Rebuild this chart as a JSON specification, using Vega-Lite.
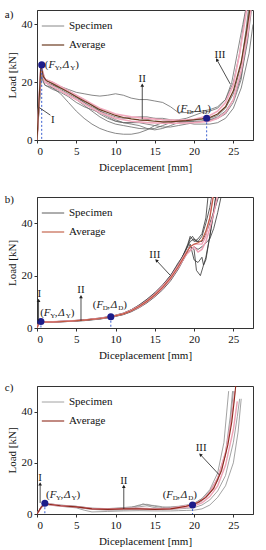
{
"$schema":"https://vega.github.io/schema/vega-lite/v6.json",
"padding":{"left":4,"top":8,"right":4,"bottom":0},
"config":{"font":"Liberation Serif","view":{"stroke":"#333","strokeWidth":1},
"axis":{"labelFontSize":11,"titleFontSize":11,"titleFontWeight":"normal","labelColor":"#111","titleColor":"#111","domainColor":"#333","tickColor":"#333","tickSize":3,"labelPadding":2,"titlePadding":4,"grid":false},
"axisX":{"titlePadding":5},
"legend":{"orient":"top-left","offset":4,"labelFontSize":11,"labelColor":"#111","symbolType":"stroke","symbolSize":500,"symbolStrokeWidth":1.4,"rowPadding":2,"padding":0,"title":null}},
"datasets":{
"tags":[{"p":"a","t":"a)"},{"p":"b","t":"b)"},{"p":"c","t":"c)"}],
"lines":[
{"p":"a","s":"S1","g":"Specimen","x":[0,0.5,1,2,3,4,5,6,7,8,9,10,11,12,13,14,15,16,17,18,19,20,21,22,23,24,25,25.8,26.3,26.7],"y":[0,25,21,19.5,18.5,17.5,16.5,16,15.5,15.2,15.5,16,15.5,14.5,14,14,13.5,13,11.5,9.5,9.5,9.8,10,10.5,11.5,14,20,30,40,47]},
{"p":"a","s":"S2","g":"Specimen","x":[0,0.6,1,2,3,4,5,6,7,8,9,10,11,12,13,14,15,16,17,18,19,20,22,23,24,25,26,26.6,27],"y":[0,24,20,18,16,13,10,7.5,5.5,4,3,2.3,2,2,2.5,3.5,5,6,6.5,6.7,6.8,7,7.5,8.5,11,16,26,38,47]},
{"p":"a","s":"S3","g":"Specimen","x":[0,0.5,1,2,3,4,5,6,7,8,9,10,11,12,13,14,15,16,17,18,20,21,22,23,24,25,26,26.8,27.3],"y":[0,23,19,18,17,15.5,14,12,10,8,6.5,5.5,5,4.5,4,3.8,4,5,6,6.5,6.5,6.5,6.8,7.5,9.5,14,23,35,47]},
{"p":"a","s":"S4","g":"Specimen","x":[0,0.6,1,2,3,4,5,6,7,8,9,10,11,12,13,14,15,16,17,18,19,20,21,22,23,24,25,26,27,27.5],"y":[0,25,21,20,18.5,17,15,13,11,9,7.5,6.5,6,6,6.5,7,7.5,7.5,7,6.5,6,5.5,5.5,5.5,6,7.5,11,18,30,40]},
{"p":"a","s":"S5","g":"Specimen","x":[0,0.5,1,2,3,4,5,6,7,8,9,10,11,12,13,14,15,16,17,18,19,20,21,22,23,24,24.8,25.5,26.2,26.7],"y":[0,24,20,19,17.5,16,14.5,13,11.5,10,9,8,7.5,7.8,8,8,7.5,7,6.8,7,7.5,8.5,9.5,10,11,14,20,30,40,47]},
{"p":"a","s":"S6","g":"Specimen","x":[0,0.5,1,2,3,4,5,6,7,8,9,10,11,12,13,14,15,16,17,18,19,20,21,22,23,24,25,26,26.8,27.3],"y":[0,22,19,17.5,16.5,15,13,11.5,10.5,9.5,8,6.5,6,6,6,5.5,5,4.5,4.5,5,5.5,6,6.5,7,8,10,14,22,34,45]},
{"p":"a","s":"S7","g":"Specimen","x":[0,0.5,1,2,3,4,5,6,7,8,9,10,11,12,13,14,15,16,17,18,19,20,21,22,23,24,25,26,26.5,27],"y":[0,24,20,19,18,17,15.5,14,12,10,8.5,7,6,5.5,5,4,3.5,4,5,6,6.3,6.5,6.5,6.8,7.5,9,13,21,32,45]},
{"p":"a","s":"P1","g":"Other","x":[0,0.5,1,2,3,4,5,6,7,8,9,10,12,14,16,18,20,22,23,24,25,25.8,26.4,26.8],"y":[0,26,21,20,18.5,17,15.5,14,12.5,11,10,9,8,7.5,7,6.8,7.2,8.5,10,13,19,30,40,47]},
{"p":"a","s":"P2","g":"Other","x":[0,0.5,1,2,3,4,5,6,7,8,10,12,14,16,18,20,22,23,24,25,26,26.9,27.3],"y":[0,25,20,18.5,17,15.5,14,12.5,11,9.5,7.5,6.5,6,5.8,5.8,6,6.5,7.5,9.5,14,24,38,47]},
{"p":"a","s":"AV","g":"Average","x":[0,0.5,0.8,1.2,2,3,4,5,6,7,8,9,10,11,12,13,14,15,16,17,18,19,20,21,22,23,24,25,26,26.7,27.2],"y":[0,26,22,20.5,19.5,18,16.5,15,13.5,12,10.5,9.5,8.5,7.8,7.3,7,6.8,6.5,6.3,6.3,6.5,6.7,7,7.3,7.8,9,11.5,17,27,38,47]},
{"p":"b","s":"B1","g":"Specimen","x":[0,0.3,0.6,2,4,6,8,9.5,11,12,13,14,15,16,17,18,19,19.5,20,20.5,21,21.5,22,22.3],"y":[0,2.6,2.2,2.2,2.5,2.9,3.5,4.2,5.2,6.4,8,10,12.5,15.5,19.2,24,30,33,34,33,35,40,46,51]},
{"p":"b","s":"B2","g":"Specimen","x":[0,0.3,0.6,2,4,6,8,9.5,11,12,13,14,15,16,17,18,19,19.5,20,20.3,20.8,21.2,21.5,22,22.5,22.8],"y":[0,2.4,2.3,2.4,2.7,3.1,3.7,4.4,5.5,6.8,8.5,10.6,13,16,19.5,24,29,31,30,22,20,24,26,35,44,51]},
{"p":"b","s":"B3","g":"Specimen","x":[0,0.3,0.6,2,4,6,8,9.5,11,12,13,14,15,16,17,18,19,19.5,20,20.5,21,21.2,21.5,22,22.5,22.8],"y":[0,2.5,2.2,2.3,2.6,3,3.6,4.3,5.3,6.5,8.1,10.1,12.4,15.2,18.6,23,28,32,26,25,27,24,27,35,45,51]},
{"p":"b","s":"B4","g":"Specimen","x":[0,0.3,0.6,2,4,6,8,9.5,11,12,13,14,15,16,17,18,19,19.5,19.8,20.2,21,21.5,22,22.8,23.2],"y":[0,2.7,2.4,2.4,2.7,3.1,3.8,4.5,5.7,7,8.8,11,13.5,16.5,20,24.5,30,34,35,33,33,36,40,47,51]},
{"p":"b","s":"B5","g":"Specimen","x":[0,0.3,0.6,2,4,6,8,9.5,11,12,13,14,15,16,17,18,19,19.6,20,20.5,21,22,22.5,23,23.5],"y":[0,2.3,2.1,2.2,2.5,2.8,3.4,4.1,5.1,6.2,7.7,9.6,11.9,14.6,18,22.5,28,30,31,30,31,34,38,44,51]},
{"p":"b","s":"B6","g":"Specimen","x":[0,0.3,0.6,2,4,6,8,9.5,11,12,13,14,15,16,17,18,18.5,19.2,19.5,20,20.5,21,21.5,21.8],"y":[0,2.6,2.3,2.3,2.6,3,3.7,4.4,5.6,6.9,8.6,10.8,13.3,16.3,20,25,27,32,35,33,34,36,42,51]},
{"p":"b","s":"P1","g":"Other","x":[0,0.3,0.6,2,4,6,8,9.5,11,12,13,14,15,16,17,18,19,20,20.5,21,21.5,22,22.6,23],"y":[0,2.5,2.3,2.3,2.6,3,3.6,4.3,5.3,6.5,8,10,12.3,15.2,18.7,23,28,31,29,30,33,38,45,51]},
{"p":"b","s":"P2","g":"Other","x":[0,0.3,0.6,2,4,6,8,9.5,11,12,13,14,15,16,17,18,19,19.5,20,21,21.5,22,22.4],"y":[0,2.5,2.3,2.4,2.7,3.1,3.7,4.4,5.6,6.8,8.4,10.5,13,16,19.4,24,29,31,32,32,35,42,51]},
{"p":"b","s":"AV","g":"Average","x":[0,0.3,0.6,2,4,6,8,9.5,11,12,13,14,15,16,17,18,19,19.5,20,20.5,21,21.5,22,22.5],"y":[0,2.5,2.3,2.3,2.6,3,3.6,4.3,5.4,6.6,8.2,10.2,12.6,15.5,19,23.5,28.5,31,32,32.5,33.5,37,42,51]},
{"p":"c","s":"C1","g":"Specimen","x":[0,0.5,1,1.5,3,5,7,9,11,12,13,14,15,16,17,18,19,20,21,22,23,23.8,24.4],"y":[0,2.8,4.5,4,3.5,3,2.2,2,2.3,2.5,3.5,3.8,3,2.5,2.8,3,3.5,4.2,6,9.5,16,28,48]},
{"p":"c","s":"C2","g":"Specimen","x":[0,0.5,1,1.5,3,5,7,9,11,12,13,14,15,16,17,18,19,20,21,22,23,24,24.6,25],"y":[0,2.6,4.3,3.9,3.3,2.9,2.1,1.9,2.1,2.2,2.8,3.2,2.5,2,2.3,2.8,3.2,3.6,5,8,13,23,35,48]},
{"p":"c","s":"C3","g":"Specimen","x":[0,0.5,1,1.5,3,5,7,9,11,12,13,14,15,16,17,18,19,20,21,22,23,24,25,25.5,25.8],"y":[0,2.4,4,3.7,3.1,2.6,1.8,1.5,1.6,1.8,2,2.2,2,1.7,1.8,2,2.2,2.5,3.5,5.5,9,15,28,38,45]},
{"p":"c","s":"C4","g":"Specimen","x":[0,0.5,1,1.5,3,5,6,7,9,11,13,15,17,18,19,20,21,22,23,24,25,25.6,26],"y":[0,2.2,3.8,3.5,3,2.4,1.5,0.8,1,1.2,1.3,1.2,1.2,1.3,1.4,1.5,2,3.5,6.5,11,20,32,45]},
{"p":"c","s":"C5","g":"Specimen","x":[0,0.5,1,1.5,3,5,7,9,11,12,13,13.5,14,15,16,17,18,19,20,21,22,23,24,24.6,24.9],"y":[0,2.7,4.4,4,3.4,3,2.3,2.1,2.5,2.8,3.2,4,3.5,3.3,2.8,2.5,2.7,3,4,6,9,14,24,38,48]},
{"p":"c","s":"P1","g":"Other","x":[0,0.5,1,1.5,3,5,7,9,11,13,15,17,19,20,21,22,23,24,24.7,25.2],"y":[0,2.5,4.3,3.9,3.3,2.9,2.2,2,2.2,2.3,2,2.3,3.2,3.9,5.3,8.5,14,24,36,48]},
{"p":"c","s":"P2","g":"Other","x":[0,0.5,1,1.5,3,5,7,9,11,13,15,17,19,20,21,22,23,24,25,25.5],"y":[0,2.4,4.1,3.7,3.1,2.7,1.9,1.7,1.9,1.9,1.7,1.9,2.6,3.2,4.3,6.8,11,19,33,44]},
{"p":"c","s":"AV","g":"Average","x":[0,0.5,1,1.5,3,5,7,9,11,13,15,17,18,19,19.8,20.5,21.5,22.5,23.5,24.3,24.8,25.1,25.3],"y":[0,2.5,4.2,3.8,3.2,2.8,2,1.8,2,2,1.8,2,2.5,3,3.7,4.5,6.5,10,17,27,36,44,50]}
],
"pts":[{"p":"a","x":0.6,"y":26},{"p":"a","x":21.6,"y":7.5},{"p":"b","x":0.5,"y":2.5},{"p":"b","x":9.4,"y":4.3},{"p":"c","x":1.0,"y":4.2},{"p":"c","x":19.8,"y":3.5}],
"notes":[{"p":"a","x":2.0,"y":6.8,"t":"I"},{"p":"a","x":13.4,"y":21,"t":"II"},{"p":"a","x":23.3,"y":29.5,"t":"III"},
{"p":"b","x":0.3,"y":12.8,"t":"I"},{"p":"b","x":5.6,"y":14.6,"t":"II"},{"p":"b","x":15,"y":27.7,"t":"III"},
{"p":"c","x":0.4,"y":14,"t":"I"},{"p":"c","x":11.05,"y":13,"t":"II"},{"p":"c","x":20.9,"y":25.6,"t":"III"}],
"arrows":[{"p":"a","x":0.3,"y":11.2,"x2":1.7,"y2":8.6},{"p":"a","x":13.4,"y":7.2,"x2":13.4,"y2":19},{"p":"a","x":24.6,"y":19.4,"x2":22.9,"y2":27.8},
{"p":"b","x":0.2,"y":2.6,"x2":0.2,"y2":10.5},{"p":"b","x":5.6,"y":2.8,"x2":5.6,"y2":12},{"p":"b","x":17,"y":20,"x2":15.2,"y2":25.8},
{"p":"c","x":0.4,"y":4.3,"x2":0.4,"y2":11.8},{"p":"c","x":11.05,"y":2,"x2":11.05,"y2":10.8},{"p":"c","x":23.2,"y":15.3,"x2":20.8,"y2":23.2}],
"keys":[{"p":"a","x":1.0,"y":26,"s":"Y"},{"p":"a","x":17.8,"y":10.8,"s":"D"},{"p":"b","x":0.4,"y":5.8,"s":"Y"},{"p":"b","x":7.1,"y":8.9,"s":"D"},{"p":"c","x":1.15,"y":7.3,"s":"Y"},{"p":"c","x":16.0,"y":7.6,"s":"D"}]
},
"spacing":20,
"vconcat":[
{"width":216,"height":130,
"layer":[
{"data":{"name":"lines"},"transform":[{"filter":"datum.p=='a' && datum.g!='Average'"},{"flatten":["x","y"]}],"mark":{"type":"line","clip":true},
"encoding":{"x":{"field":"x","type":"quantitative","scale":{"domain":[0,27.5],"nice":false},"axis":{"title":"Diceplacement [mm]","values":[0,5,10,15,20,25]}},
"y":{"field":"y","type":"quantitative","scale":{"domain":[0,45],"nice":false},"axis":{"title":"Load [kN]","values":[0,10,20,30,40]}},
"color":{"field":"g","type":"nominal","scale":{"domain":["Specimen","Average","Other"],"range":["#6a6a6a","#6b3a1f","#f2a9bd"]},"legend":{"values":["Specimen","Average"]}},
"strokeWidth":{"field":"g","type":"nominal","scale":{"domain":["Specimen","Average","Other"],"range":[0.8,1.6,0.8]},"legend":null},
"detail":{"field":"s"}}},
{"data":{"name":"lines"},"transform":[{"filter":"datum.p=='a' && datum.g=='Average'"},{"flatten":["x","y"]}],"mark":{"type":"line","clip":true},
"encoding":{"x":{"field":"x","type":"quantitative"},"y":{"field":"y","type":"quantitative"},"color":{"field":"g","type":"nominal"},"strokeWidth":{"field":"g","type":"nominal","legend":null},"detail":{"field":"s"}}},
{"data":{"name":"tags"},"transform":[{"filter":"datum.p=='a'"}],"mark":{"type":"text","fontSize":11,"align":"left","baseline":"middle","color":"#111"},"encoding":{"x":{"datum":-4.1,"type":"quantitative"},"y":{"datum":43.3,"type":"quantitative"},"text":{"field":"t"}}},
{"data":{"name":"pts"},"transform":[{"filter":"datum.p=='a'"}],"mark":{"type":"rule","strokeDash":[2,2],"color":"#3a5fd0","strokeWidth":1},"encoding":{"x":{"field":"x","type":"quantitative"},"y":{"field":"y","type":"quantitative"},"y2":{"datum":0}}},
{"data":{"name":"pts"},"transform":[{"filter":"datum.p=='a'"}],"mark":{"type":"circle","color":"#1c1c8a","opacity":1,"size":50},"encoding":{"x":{"field":"x","type":"quantitative"},"y":{"field":"y","type":"quantitative"}}},
{"data":{"name":"arrows"},"transform":[{"filter":"datum.p=='a'"}],"mark":{"type":"rule","color":"#222","strokeWidth":0.8},"encoding":{"x":{"field":"x","type":"quantitative"},"y":{"field":"y","type":"quantitative"},"x2":{"field":"x2"},"y2":{"field":"y2"}}},
{"data":{"name":"arrows"},"transform":[{"filter":"datum.p=='a' && datum.y2>datum.y"}],"mark":{"type":"point","shape":"triangle-up","filled":true,"color":"#222","size":14,"opacity":1},"encoding":{"x":{"field":"x2","type":"quantitative"},"y":{"field":"y2","type":"quantitative"},"angle":{"condition":{"test":"datum.x==datum.x2","value":0},"value":-30}}},
{"data":{"name":"notes"},"transform":[{"filter":"datum.p=='a'"}],"mark":{"type":"text","fontSize":11,"color":"#222","baseline":"middle"},"encoding":{"x":{"field":"x","type":"quantitative"},"y":{"field":"y","type":"quantitative"},"text":{"field":"t"}}},
{"data":{"name":"keys"},"transform":[{"filter":"datum.p=='a'"}],"mark":{"type":"text","fontSize":11,"align":"left","baseline":"middle","color":"#222"},"encoding":{"x":{"field":"x","type":"quantitative"},"y":{"field":"y","type":"quantitative"},"text":{"value":"("}}},
{"data":{"name":"keys"},"transform":[{"filter":"datum.p=='a'"}],"mark":{"type":"text","fontSize":11,"fontStyle":"italic","align":"left","baseline":"middle","color":"#222","dx":3.7},"encoding":{"x":{"field":"x","type":"quantitative"},"y":{"field":"y","type":"quantitative"},"text":{"value":"F"}}},
{"data":{"name":"keys"},"transform":[{"filter":"datum.p=='a'"}],"mark":{"type":"text","fontSize":7,"align":"left","baseline":"middle","color":"#222","dx":10,"dy":3},"encoding":{"x":{"field":"x","type":"quantitative"},"y":{"field":"y","type":"quantitative"},"text":{"field":"s"}}},
{"data":{"name":"keys"},"transform":[{"filter":"datum.p=='a'"}],"mark":{"type":"text","fontSize":11,"align":"left","baseline":"middle","color":"#222","dx":14.5},"encoding":{"x":{"field":"x","type":"quantitative"},"y":{"field":"y","type":"quantitative"},"text":{"value":","}}},
{"data":{"name":"keys"},"transform":[{"filter":"datum.p=='a'"}],"mark":{"type":"text","fontSize":11,"fontStyle":"italic","align":"left","baseline":"middle","color":"#222","dx":18},"encoding":{"x":{"field":"x","type":"quantitative"},"y":{"field":"y","type":"quantitative"},"text":{"value":"Δ"}}},
{"data":{"name":"keys"},"transform":[{"filter":"datum.p=='a'"}],"mark":{"type":"text","fontSize":7,"align":"left","baseline":"middle","color":"#222","dx":25.5,"dy":3},"encoding":{"x":{"field":"x","type":"quantitative"},"y":{"field":"y","type":"quantitative"},"text":{"field":"s"}}},
{"data":{"name":"keys"},"transform":[{"filter":"datum.p=='a'"}],"mark":{"type":"text","fontSize":11,"align":"left","baseline":"middle","color":"#222","dx":30.5},"encoding":{"x":{"field":"x","type":"quantitative"},"y":{"field":"y","type":"quantitative"},"text":{"value":")"}}}
]},
{"width":216,"height":131,
"layer":[
{"data":{"name":"lines"},"transform":[{"filter":"datum.p=='b' && datum.g!='Average'"},{"flatten":["x","y"]}],"mark":{"type":"line","clip":true},
"encoding":{"x":{"field":"x","type":"quantitative","scale":{"domain":[0,27.5],"nice":false},"axis":{"title":"Diceplacement [mm]","values":[0,5,10,15,20,25]}},
"y":{"field":"y","type":"quantitative","scale":{"domain":[0,50],"nice":false},"axis":{"title":"Load [kN]","values":[0,10,20,30,40,50]}},
"color":{"field":"g","type":"nominal","scale":{"domain":["Specimen","Average","Other"],"range":["#333333","#c0583f","#eea0b4"]},"legend":{"values":["Specimen","Average"]}},
"strokeWidth":{"field":"g","type":"nominal","scale":{"domain":["Specimen","Average","Other"],"range":[0.8,1.4,0.8]},"legend":null},
"detail":{"field":"s"}}},
{"data":{"name":"lines"},"transform":[{"filter":"datum.p=='b' && datum.g=='Average'"},{"flatten":["x","y"]}],"mark":{"type":"line","clip":true},
"encoding":{"x":{"field":"x","type":"quantitative"},"y":{"field":"y","type":"quantitative"},"color":{"field":"g","type":"nominal"},"strokeWidth":{"field":"g","type":"nominal","legend":null},"detail":{"field":"s"}}},
{"data":{"name":"tags"},"transform":[{"filter":"datum.p=='b'"}],"mark":{"type":"text","fontSize":11,"align":"left","baseline":"middle","color":"#111"},"encoding":{"x":{"datum":-4.1,"type":"quantitative"},"y":{"datum":48.8,"type":"quantitative"},"text":{"field":"t"}}},
{"data":{"name":"pts"},"transform":[{"filter":"datum.p=='b'"}],"mark":{"type":"rule","strokeDash":[2,2],"color":"#3a5fd0","strokeWidth":1},"encoding":{"x":{"field":"x","type":"quantitative"},"y":{"field":"y","type":"quantitative"},"y2":{"datum":0}}},
{"data":{"name":"pts"},"transform":[{"filter":"datum.p=='b'"}],"mark":{"type":"circle","color":"#1c1c8a","opacity":1,"size":50},"encoding":{"x":{"field":"x","type":"quantitative"},"y":{"field":"y","type":"quantitative"}}},
{"data":{"name":"arrows"},"transform":[{"filter":"datum.p=='b'"}],"mark":{"type":"rule","color":"#222","strokeWidth":0.8},"encoding":{"x":{"field":"x","type":"quantitative"},"y":{"field":"y","type":"quantitative"},"x2":{"field":"x2"},"y2":{"field":"y2"}}},
{"data":{"name":"arrows"},"transform":[{"filter":"datum.p=='b' && datum.y2>datum.y"}],"mark":{"type":"point","shape":"triangle-up","filled":true,"color":"#222","size":14,"opacity":1},"encoding":{"x":{"field":"x2","type":"quantitative"},"y":{"field":"y2","type":"quantitative"},"angle":{"condition":{"test":"datum.x==datum.x2","value":0},"value":-45}}},
{"data":{"name":"notes"},"transform":[{"filter":"datum.p=='b'"}],"mark":{"type":"text","fontSize":11,"color":"#222","baseline":"middle"},"encoding":{"x":{"field":"x","type":"quantitative"},"y":{"field":"y","type":"quantitative"},"text":{"field":"t"}}},
{"data":{"name":"keys"},"transform":[{"filter":"datum.p=='b'"}],"mark":{"type":"text","fontSize":11,"align":"left","baseline":"middle","color":"#222"},"encoding":{"x":{"field":"x","type":"quantitative"},"y":{"field":"y","type":"quantitative"},"text":{"value":"("}}},
{"data":{"name":"keys"},"transform":[{"filter":"datum.p=='b'"}],"mark":{"type":"text","fontSize":11,"fontStyle":"italic","align":"left","baseline":"middle","color":"#222","dx":3.7},"encoding":{"x":{"field":"x","type":"quantitative"},"y":{"field":"y","type":"quantitative"},"text":{"value":"F"}}},
{"data":{"name":"keys"},"transform":[{"filter":"datum.p=='b'"}],"mark":{"type":"text","fontSize":7,"align":"left","baseline":"middle","color":"#222","dx":10,"dy":3},"encoding":{"x":{"field":"x","type":"quantitative"},"y":{"field":"y","type":"quantitative"},"text":{"field":"s"}}},
{"data":{"name":"keys"},"transform":[{"filter":"datum.p=='b'"}],"mark":{"type":"text","fontSize":11,"align":"left","baseline":"middle","color":"#222","dx":14.5},"encoding":{"x":{"field":"x","type":"quantitative"},"y":{"field":"y","type":"quantitative"},"text":{"value":","}}},
{"data":{"name":"keys"},"transform":[{"filter":"datum.p=='b'"}],"mark":{"type":"text","fontSize":11,"fontStyle":"italic","align":"left","baseline":"middle","color":"#222","dx":18},"encoding":{"x":{"field":"x","type":"quantitative"},"y":{"field":"y","type":"quantitative"},"text":{"value":"Δ"}}},
{"data":{"name":"keys"},"transform":[{"filter":"datum.p=='b'"}],"mark":{"type":"text","fontSize":7,"align":"left","baseline":"middle","color":"#222","dx":25.5,"dy":3},"encoding":{"x":{"field":"x","type":"quantitative"},"y":{"field":"y","type":"quantitative"},"text":{"field":"s"}}},
{"data":{"name":"keys"},"transform":[{"filter":"datum.p=='b'"}],"mark":{"type":"text","fontSize":11,"align":"left","baseline":"middle","color":"#222","dx":30.5},"encoding":{"x":{"field":"x","type":"quantitative"},"y":{"field":"y","type":"quantitative"},"text":{"value":")"}}}
]},
{"width":216,"height":128,
"layer":[
{"data":{"name":"lines"},"transform":[{"filter":"datum.p=='c' && datum.g!='Average'"},{"flatten":["x","y"]}],"mark":{"type":"line","clip":true},
"encoding":{"x":{"field":"x","type":"quantitative","scale":{"domain":[0,27.5],"nice":false},"axis":{"title":"Diceplacement [mm]","values":[0,5,10,15,20,25]}},
"y":{"field":"y","type":"quantitative","scale":{"domain":[0,50],"nice":false},"axis":{"title":"Load [kN]","values":[0,10,20,30,40,50]}},
"color":{"field":"g","type":"nominal","scale":{"domain":["Specimen","Average","Other"],"range":["#8c8c8c","#8e2a1c","#eda3b6"]},"legend":{"values":["Specimen","Average"]}},
"strokeWidth":{"field":"g","type":"nominal","scale":{"domain":["Specimen","Average","Other"],"range":[0.8,1.4,0.8]},"legend":null},
"detail":{"field":"s"}}},
{"data":{"name":"lines"},"transform":[{"filter":"datum.p=='c' && datum.g=='Average'"},{"flatten":["x","y"]}],"mark":{"type":"line","clip":true},
"encoding":{"x":{"field":"x","type":"quantitative"},"y":{"field":"y","type":"quantitative"},"color":{"field":"g","type":"nominal"},"strokeWidth":{"field":"g","type":"nominal","legend":null},"detail":{"field":"s"}}},
{"data":{"name":"tags"},"transform":[{"filter":"datum.p=='c'"}],"mark":{"type":"text","fontSize":11,"align":"left","baseline":"middle","color":"#111"},"encoding":{"x":{"datum":-4.1,"type":"quantitative"},"y":{"datum":49.4,"type":"quantitative"},"text":{"field":"t"}}},
{"data":{"name":"pts"},"transform":[{"filter":"datum.p=='c'"}],"mark":{"type":"rule","strokeDash":[2,2],"color":"#3a5fd0","strokeWidth":1},"encoding":{"x":{"field":"x","type":"quantitative"},"y":{"field":"y","type":"quantitative"},"y2":{"datum":0}}},
{"data":{"name":"pts"},"transform":[{"filter":"datum.p=='c'"}],"mark":{"type":"circle","color":"#1c1c8a","opacity":1,"size":50},"encoding":{"x":{"field":"x","type":"quantitative"},"y":{"field":"y","type":"quantitative"}}},
{"data":{"name":"arrows"},"transform":[{"filter":"datum.p=='c'"}],"mark":{"type":"rule","color":"#222","strokeWidth":0.8},"encoding":{"x":{"field":"x","type":"quantitative"},"y":{"field":"y","type":"quantitative"},"x2":{"field":"x2"},"y2":{"field":"y2"}}},
{"data":{"name":"arrows"},"transform":[{"filter":"datum.p=='c' && datum.y2>datum.y"}],"mark":{"type":"point","shape":"triangle-up","filled":true,"color":"#222","size":14,"opacity":1},"encoding":{"x":{"field":"x2","type":"quantitative"},"y":{"field":"y2","type":"quantitative"},"angle":{"condition":{"test":"datum.x==datum.x2","value":0},"value":-45}}},
{"data":{"name":"notes"},"transform":[{"filter":"datum.p=='c'"}],"mark":{"type":"text","fontSize":11,"color":"#222","baseline":"middle"},"encoding":{"x":{"field":"x","type":"quantitative"},"y":{"field":"y","type":"quantitative"},"text":{"field":"t"}}},
{"data":{"name":"keys"},"transform":[{"filter":"datum.p=='c'"}],"mark":{"type":"text","fontSize":11,"align":"left","baseline":"middle","color":"#222"},"encoding":{"x":{"field":"x","type":"quantitative"},"y":{"field":"y","type":"quantitative"},"text":{"value":"("}}},
{"data":{"name":"keys"},"transform":[{"filter":"datum.p=='c'"}],"mark":{"type":"text","fontSize":11,"fontStyle":"italic","align":"left","baseline":"middle","color":"#222","dx":3.7},"encoding":{"x":{"field":"x","type":"quantitative"},"y":{"field":"y","type":"quantitative"},"text":{"value":"F"}}},
{"data":{"name":"keys"},"transform":[{"filter":"datum.p=='c'"}],"mark":{"type":"text","fontSize":7,"align":"left","baseline":"middle","color":"#222","dx":10,"dy":3},"encoding":{"x":{"field":"x","type":"quantitative"},"y":{"field":"y","type":"quantitative"},"text":{"field":"s"}}},
{"data":{"name":"keys"},"transform":[{"filter":"datum.p=='c'"}],"mark":{"type":"text","fontSize":11,"align":"left","baseline":"middle","color":"#222","dx":14.5},"encoding":{"x":{"field":"x","type":"quantitative"},"y":{"field":"y","type":"quantitative"},"text":{"value":","}}},
{"data":{"name":"keys"},"transform":[{"filter":"datum.p=='c'"}],"mark":{"type":"text","fontSize":11,"fontStyle":"italic","align":"left","baseline":"middle","color":"#222","dx":18},"encoding":{"x":{"field":"x","type":"quantitative"},"y":{"field":"y","type":"quantitative"},"text":{"value":"Δ"}}},
{"data":{"name":"keys"},"transform":[{"filter":"datum.p=='c'"}],"mark":{"type":"text","fontSize":7,"align":"left","baseline":"middle","color":"#222","dx":25.5,"dy":3},"encoding":{"x":{"field":"x","type":"quantitative"},"y":{"field":"y","type":"quantitative"},"text":{"field":"s"}}},
{"data":{"name":"keys"},"transform":[{"filter":"datum.p=='c'"}],"mark":{"type":"text","fontSize":11,"align":"left","baseline":"middle","color":"#222","dx":30.5},"encoding":{"x":{"field":"x","type":"quantitative"},"y":{"field":"y","type":"quantitative"},"text":{"value":")"}}}
]}
],
"resolve":{"scale":{"color":"independent","strokeWidth":"independent","x":"independent","y":"independent"},"legend":{"color":"independent"}}
}
